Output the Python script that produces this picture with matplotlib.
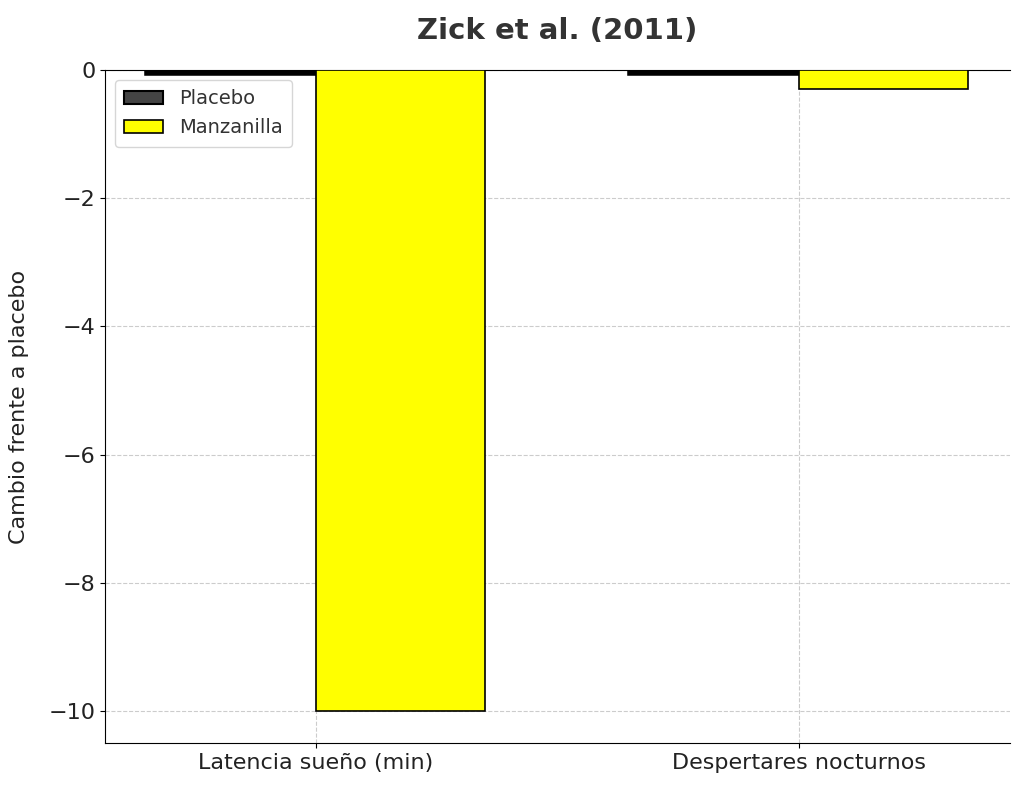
import numpy as np
import matplotlib.pyplot as plt

# Data
categories = ["Latencia sueño (min)", "Despertares nocturnos"]
placebo = [-0.05, -0.05]
manzanilla = [-10, -0.3]

barWidth = 0.35
x = np.arange(len(categories))

fig = plt.figure(figsize=(10.24, 7.89), dpi=100)
ax = fig.add_subplot(111)
ax.set_position([105/1024, 1-743/789, 905/1024, 673/789])

ax.bar(x - barWidth/2, placebo, barWidth, color="#444444", edgecolor="black", linewidth=4, label="Placebo", zorder=3)
ax.bar(x + barWidth/2, manzanilla, barWidth, color="yellow", edgecolor="black", linewidth=1.2, label="Manzanilla", zorder=3)

ax.set_title("Zick et al. (2011)", fontsize=21, fontweight="bold", color="#333333", pad=22)
ax.set_ylabel("Cambio frente a placebo", fontsize=16, color="#222222", labelpad=14)
ax.set_xticks(x)
ax.set_xticklabels(categories, fontsize=16, color="#222222")
ax.tick_params(axis="y", labelsize=16, labelcolor="#222222")
ax.set_yticks([0, -2, -4, -6, -8, -10])
ax.set_yticklabels(["0", "\u22122", "\u22124", "\u22126", "\u22128", "\u221210"])
ax.set_xlim(-0.437, 1.437)
ax.set_ylim(-10.5, 0)
ax.spines["right"].set_visible(False)
ax.grid(True, linestyle="--", color="#cccccc", linewidth=0.8, zorder=0)
leg = ax.legend(loc="upper left", fontsize=14, frameon=True, borderpad=0.5)
for t in leg.get_texts(): t.set_color("#333333")
leg.legendHandles = None if False else None
leg.get_patches()[0].set_linewidth(1.5)

fig.savefig("out.png", dpi=100)
